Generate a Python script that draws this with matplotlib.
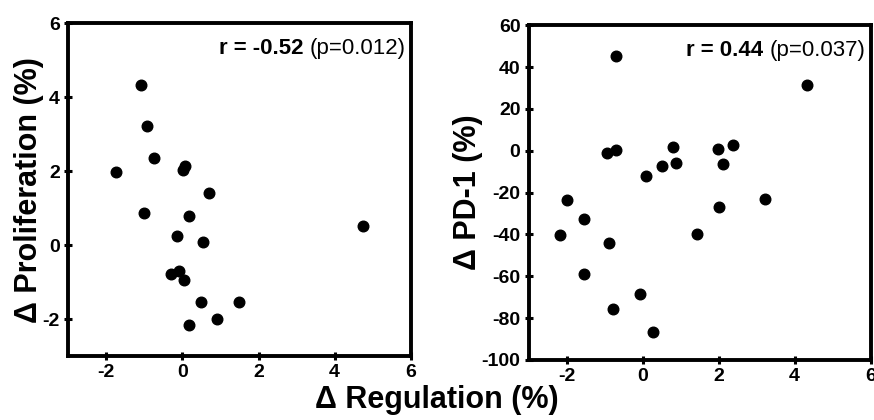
import matplotlib.pyplot as plt

plt.rcParams['font.family'] = ['Liberation Sans', 'DejaVu Sans']
plt.rcParams['font.weight'] = 'bold'
plt.rcParams['axes.unicode_minus'] = False

# left panel: regulation vs proliferation
reg_prolif = [-1.10, -0.92, -0.74, -1.75, 0.08, 0.02, 0.69, -1.00, 0.17, 4.75,
              -0.14, 0.53, -0.30, -0.10, 0.03, 0.50, 1.49, 0.90, 0.17]
prolif = [4.33, 3.21, 2.35, 1.98, 2.13, 2.02, 1.42, 0.88, 0.79, 0.52,
          0.26, 0.09, -0.78, -0.69, -0.93, -1.53, -1.54, -1.99, -2.15]

# right panel: regulation vs PD-1
reg_pd1 = [-0.70, 4.34, -0.94, -0.71, 0.79, 0.51, 0.87, 0.09, 1.98, 2.37, 2.12,
           -1.99, 3.22, 2.02, -1.54, -2.18, 1.43, -0.89, -1.55, -0.08, -0.79, 0.27]
pd1 = [45.4, 31.2, -1.1, 0.5, 1.6, -7.5, -6.0, -11.9, 0.6, 2.7, -6.5,
       -23.4, -23.1, -26.7, -32.8, -40.1, -39.8, -44.3, -58.9, -68.4, -75.5, -86.6]

fig = plt.figure(figsize=(8.74, 4.2), dpi=100)
ax1 = fig.add_axes([0.078, 0.152, 0.392, 0.793])
ax2 = fig.add_axes([0.605, 0.143, 0.391, 0.797])


def style(ax):
    for side in ['top', 'right', 'bottom', 'left']:
        ax.spines[side].set_linewidth(2.8)
    ax.tick_params(direction='inout', length=6, width=2.2, labelsize=14, pad=3)
    for lab in ax.get_xticklabels() + ax.get_yticklabels():
        lab.set_fontweight('bold')


def stat_label(ax, r_text, p_text):
    # bold r value followed by the p value in normal weight
    ptxt = ax.text(0.985, 0.925, p_text, transform=ax.transAxes, fontsize=16,
                   fontweight='normal', ha='right', va='center')
    ax.annotate(r_text + ' ', xy=(0, 0.5), xycoords=ptxt, fontsize=16,
                fontweight='bold', ha='right', va='center')


ax1.scatter(reg_prolif, prolif, s=58, color='black', zorder=3)
ax1.set_xlim(-3, 6)
ax1.set_ylim(-3, 6)
ax1.set_xticks([-2, 0, 2, 4, 6])
ax1.set_yticks([-2, 0, 2, 4, 6])
style(ax1)
ax1.set_ylabel('Δ Proliferation (%)', fontsize=22, fontweight='bold', labelpad=-1)
stat_label(ax1, 'r = -0.52', '(p=0.012)')

ax2.scatter(reg_pd1, pd1, s=58, color='black', zorder=3)
ax2.set_xlim(-3, 6)
ax2.set_ylim(-100, 60)
ax2.set_xticks([-2, 0, 2, 4, 6])
ax2.set_yticks(range(-100, 61, 20))
style(ax2)
ax2.set_ylabel('Δ PD-1 (%)', fontsize=22, fontweight='bold', labelpad=-1)
stat_label(ax2, 'r = 0.44', '(p=0.037)')

fig.text(0.5, 0.047, 'Δ Regulation (%)', fontsize=22, fontweight='bold',
         ha='center', va='center')

fig.savefig('out.png', dpi=100)
